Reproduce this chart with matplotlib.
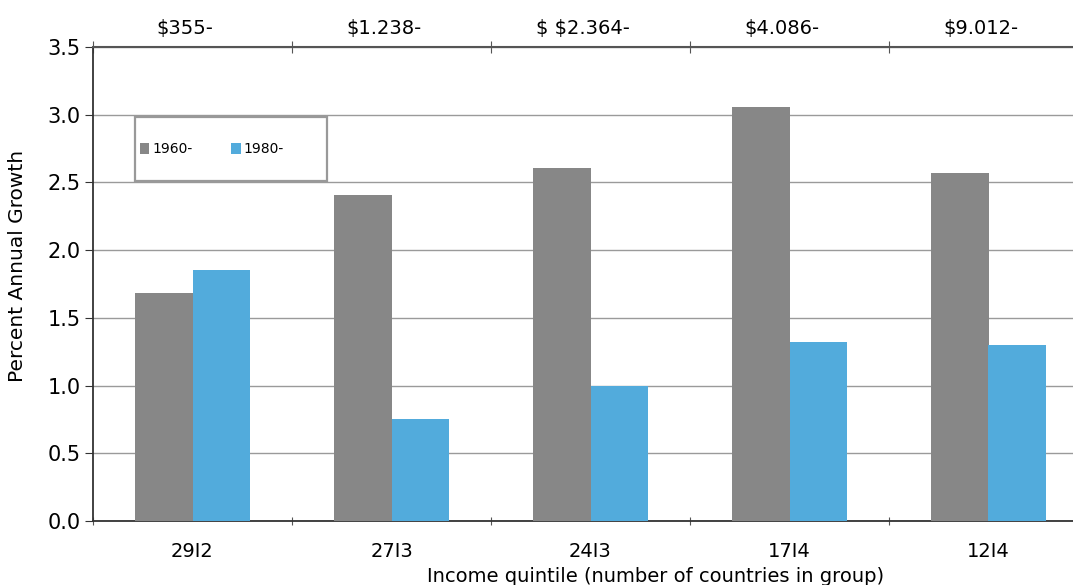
import matplotlib.pyplot as plt
import numpy as np
from matplotlib.patches import Rectangle

# data
groups = ['29I2', '27I3', '24I3', '17I4', '12I4']
top_labels = ['$355-', '$1.238-', '$ $2.364-', '$4.086-', '$9.012-']
growth_1960 = [1.68, 2.41, 2.61, 3.06, 2.57]
growth_1980 = [1.85, 0.75, 1.00, 1.32, 1.30]
series_names = ['1960-', '1980-']

GRAY = '#878787'
BLUE = '#52abdc'

plt.rcParams['font.family'] = ['DejaVu Sans']
plt.rcParams['text.parse_math'] = False

fig = plt.figure(figsize=(10.73, 5.85), dpi=100)
# axes runs a little past the right edge of the canvas, like the cropped original
ax = fig.add_axes([93 / 1073, 1 - 521 / 585, 995 / 1073, 474 / 585])

x = np.arange(len(groups))
w = 0.29
ax.bar(x - w / 2, growth_1960, w, color=GRAY, label=series_names[0], zorder=3)
ax.bar(x + w / 2, growth_1980, w, color=BLUE, label=series_names[1], zorder=3)

ax.set_xlim(-0.5, len(groups) - 0.5)
ax.set_ylim(0, 3.5)
ax.set_yticks(np.arange(0, 3.51, 0.5))
ax.set_yticklabels([f'{v:.1f}' for v in np.arange(0, 3.51, 0.5)], fontsize=15)
ax.yaxis.grid(True, color='#9a9a9a', linewidth=1.0, zorder=0)

# category boundaries get the ticks, labels sit in the middle
ax.set_xticks(np.arange(-0.5, len(groups)), minor=False)
ax.set_xticklabels([])
ax.set_xticks(x, minor=True)
ax.set_xticklabels(groups, minor=True, fontsize=14)
ax.tick_params(axis='x', which='minor', length=0, pad=15)
ax.tick_params(axis='x', which='major', length=6, direction='inout', color='#555555')
ax.tick_params(axis='y', length=6, direction='out', color='#333333', pad=3)

for s in ['left', 'bottom']:
    ax.spines[s].set_color('#333333')
    ax.spines[s].set_linewidth(1.3)
ax.spines['right'].set_visible(False)
ax.spines['top'].set_color('#555555')
ax.spines['top'].set_linewidth(1.5)

ax.set_ylabel('Percent Annual Growth', fontsize=14.5)
ax.yaxis.set_label_coords(-0.066, 0.538)
ax.set_xlabel('Income quintile (number of countries in group)', fontsize=14)
ax.xaxis.set_label_coords(0.565, -0.097)

# income labels along the top
top = ax.secondary_xaxis('top')
top.set_xticks(np.arange(-0.5, len(groups)))
top.set_xticklabels([])
top.tick_params(length=8, direction='inout', color='#555555')
top.spines['top'].set_visible(False)
for xi, lab in zip(x, top_labels):
    ax.text(xi - 0.04, 3.5 + 0.14, lab, ha='center', va='center', fontsize=14,
            transform=ax.transData, clip_on=False)

# legend box
ax.add_patch(Rectangle((0.042, 2.51 / 3.5), 0.193, 0.47 / 3.5, transform=ax.transAxes,
                       facecolor='white', edgecolor='#999999', linewidth=1.6, zorder=4))
leg = ax.legend(loc='center left', bbox_to_anchor=(0.047, 2.745 / 3.5), ncol=2,
                frameon=False, fontsize=10, handlelength=0.7, handleheight=0.8,
                handletextpad=0.2, columnspacing=2.8, borderaxespad=0, borderpad=0)
leg.set_zorder(5)

fig.savefig('out.png', dpi=100)
